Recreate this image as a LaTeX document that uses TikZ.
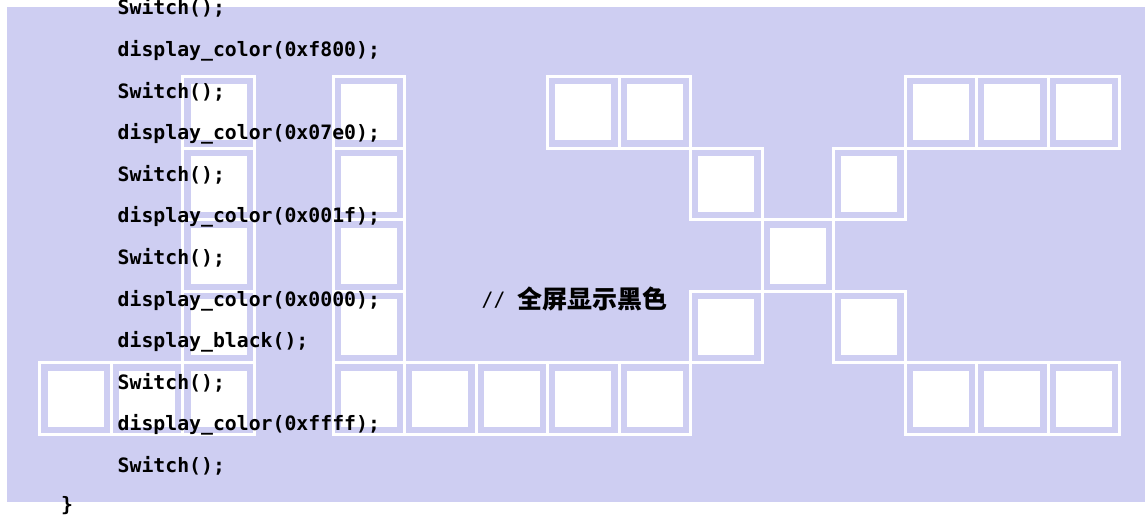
\documentclass[tikz,border=0pt]{standalone}
\usepackage{fontspec}
\newfontfamily\codefont{DejaVu Sans Mono}
\newfontfamily\cjk{Noto Sans CJK SC}
\definecolor{bg}{RGB}{206,206,242}
\tikzset{
  cell/.style={draw=white, line width=3pt, minimum size=71.5pt, inner sep=0pt, outer sep=0pt,
    path picture={\fill[white] ([shift={(7.75pt,7.75pt)}]path picture bounding box.south west)
      rectangle ([shift={(-7.75pt,-7.75pt)}]path picture bounding box.north east);}},
  code/.style={anchor=base west, inner sep=0pt, text=black,
    font=\codefont\bfseries\fontsize{19.8}{24}\selectfont},
  comment/.style={anchor=base west, inner sep=0pt, text=black}
}
\begin{document}
\begin{tikzpicture}[x=1pt,y=-1pt]
\useasboundingbox (0,0) rectangle (1145,515);
\fill[bg] (7,6.5) rectangle (1145,501.5);
% left group
\foreach \k/\r [count=\i] in {2/0,2/1,2/2,2/3,0/4,1/4,2/4}
  \node[cell] (L\i) at ({75.55+71.5*\k},{112.3+71.6*\r}) {};
% right group
\foreach \k/\r [count=\i] in {0/0,0/1,0/2,0/3,0/4,1/4,2/4,3/4,4/4,3/0,4/0,5/1,6/2,7/1,8/0,9/0,10/0,5/3,7/3,8/4,9/4,10/4}
  \node[cell] (R\i) at ({368.95+71.5*\k},{112.3+71.6*\r}) {};
% code text
\node[code] (t0)  at (117.5,14.8)  {Switch();};
\node[code] (t1)  at (117.5,56.4)  {display\_color(0xf800);};
\node[code] (t2)  at (117.5,98.0)  {Switch();};
\node[code] (t3)  at (117.5,139.6) {display\_color(0x07e0);};
\node[code] (t4)  at (117.5,181.2) {Switch();};
\node[code] (t5)  at (117.5,222.8) {display\_color(0x001f);};
\node[code] (t6)  at (117.5,264.4) {Switch();};
\node[code] (t7)  at (117.5,306.0) {display\_color(0x0000);};
\node[code] (t8)  at (117.5,347.6) {display\_black();};
\node[code] (t9)  at (117.5,389.2) {Switch();};
\node[code] (t10) at (117.5,430.8) {display\_color(0xffff);};
\node[code] (t11) at (117.5,472.4) {Switch();};
\node[code] (t12) at (61,511) {\}};
\node[comment] (cm) at (481.5,306.0) {{\codefont\fontsize{19.8}{24}\selectfont //\ }\raisebox{-2.5pt}{\cjk\bfseries\fontsize{25}{30}\selectfont 全屏显示黑色}};
\end{tikzpicture}
\end{document}
